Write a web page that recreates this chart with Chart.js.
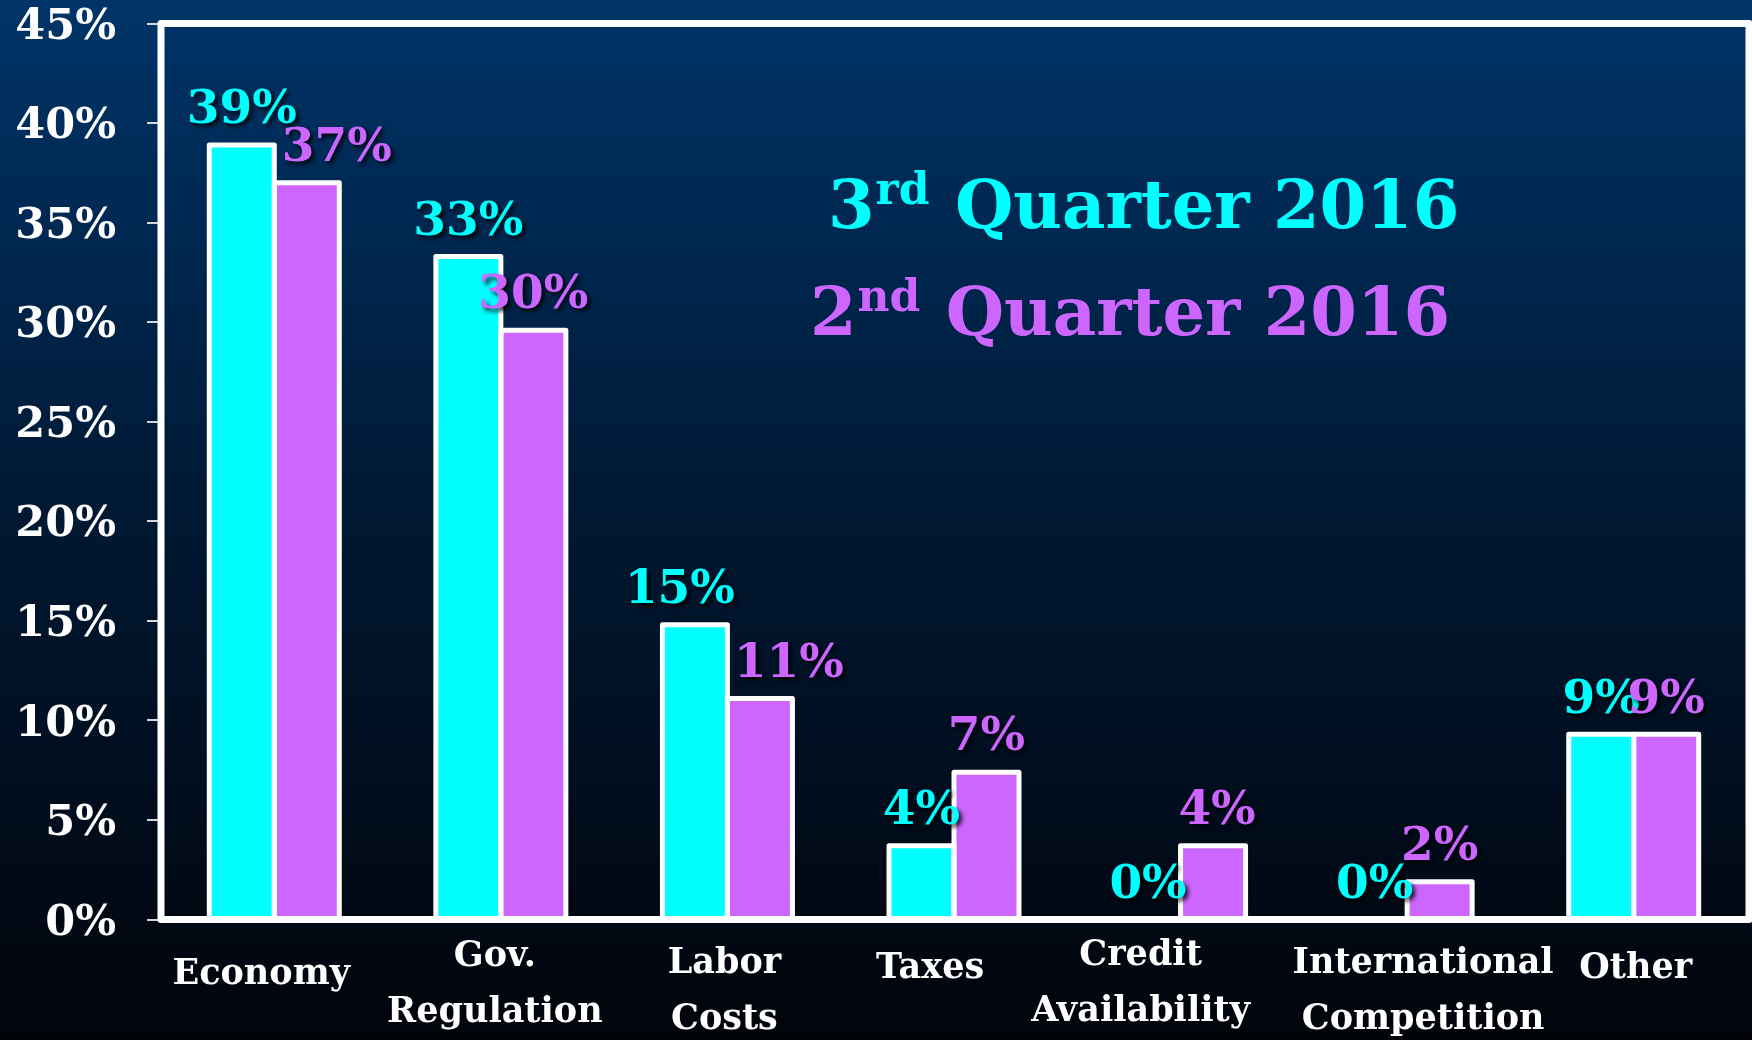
<!DOCTYPE html>
<html>
<head>
<meta charset="utf-8">
<script src="https://cdn.jsdelivr.net/npm/chart.js@4.4.1/dist/chart.umd.min.js"></script>
<style>
  html, body { margin: 0; padding: 0; background: #000; }
  #wrap { width: 1752px; height: 1040px; position: relative; }
  canvas { display: block; }
</style>
</head>
<body>
<div id="wrap"><canvas id="chart" width="1752" height="1040"></canvas></div>
<script>
// ---- data ----
const categories = [
  ['Economy'],
  ['Gov.', 'Regulation'],
  ['Labor', 'Costs'],
  ['Taxes'],
  ['Credit', 'Availability'],
  ['International', 'Competition'],
  ['Other']
];
const q3Values = [38.9, 33.3, 14.8, 3.7, 0, 0, 9.3];
const q2Values = [37.0, 29.6, 11.1, 7.4, 3.7, 1.9, 9.3];
const seriesLabels = ['3rd Quarter 2016', '2nd Quarter 2016'];
const yTickValues = [0, 5, 10, 15, 20, 25, 30, 35, 40, 45];

// ---- styles ----
const CYAN = '#00FFFF';
const PURPLE = '#CC66FF';
const SERIF = '"DejaVu Serif", "Liberation Serif", serif';

const backgroundPlugin = {
  id: 'bg',
  beforeDraw(chart) {
    const { ctx, width, height } = chart;
    const g = ctx.createLinearGradient(0, 0, 0, height);
    g.addColorStop(0, 'rgb(0,52,104)');
    g.addColorStop(0.25, 'rgb(0,38,78)');
    g.addColorStop(0.5, 'rgb(0,24,50)');
    g.addColorStop(0.75, 'rgb(1,14,31)');
    g.addColorStop(1, 'rgb(2,4,10)');
    ctx.save();
    ctx.fillStyle = g;
    ctx.fillRect(0, 0, width, height);
    ctx.restore();
  }
};

const overlayPlugin = {
  id: 'overlay',
  afterDatasetsDraw(chart, args, opts) {
    const { ctx, chartArea } = chart;
    ctx.save();
    // bar outlines (stroke centered on bar edges)
    ctx.strokeStyle = '#FFFFFF';
    ctx.lineWidth = 5;
    ctx.lineJoin = 'round';
    chart.data.datasets.forEach((ds, di) => {
      const meta = chart.getDatasetMeta(di);
      meta.data.forEach((bar, i) => {
        if (!ds.data[i]) return;
        const p = bar.getProps(['x', 'y', 'base', 'width'], true);
        ctx.strokeRect(p.x - p.width / 2, p.y, p.width, p.base - p.y);
      });
    });
    // frame
    ctx.lineWidth = 7;
    ctx.lineCap = 'square';
    ctx.beginPath();
    ctx.moveTo(chartArea.left, chartArea.bottom);
    ctx.lineTo(chartArea.left, chartArea.top);
    ctx.lineTo(chartArea.right + 2, chartArea.top);
    ctx.lineTo(chartArea.right + 2, chartArea.bottom);
    ctx.closePath();
    ctx.stroke();

    // category labels (positioned from the x scale)
    const xs = chart.scales.x;
    ctx.fillStyle = '#FFFFFF';
    ctx.font = 'bold 35px ' + SERIF;
    ctx.textAlign = 'center';
    ctx.textBaseline = 'middle';
    chart.data.labels.forEach((lab, i) => {
      const cx = xs.getPixelForValue(i) + opts.catDx[i];
      const y0 = chart.chartArea.bottom + opts.catDy[i];
      const lines = Array.isArray(lab) ? lab : [lab];
      lines.forEach((ln, j) => ctx.fillText(ln, cx, y0 + j * 56));
    });

    // value labels
    ctx.font = 'bold 47px ' + SERIF;
    ctx.textAlign = 'center';
    ctx.textBaseline = 'middle';
    ctx.shadowColor = 'rgba(0,0,0,0.85)';
    ctx.shadowOffsetX = 3;
    ctx.shadowOffsetY = 3;
    ctx.shadowBlur = 4;
    chart.data.datasets.forEach((ds, di) => {
      const meta = chart.getDatasetMeta(di);
      meta.data.forEach((bar, i) => {
        const p = bar.getProps(['x', 'y'], true);
        const nudge = (opts.nudge[di] && opts.nudge[di][i]) || 0;
        ctx.fillStyle = ds.backgroundColor;
        ctx.fillText(Math.round(ds.data[i]) + '%', p.x + nudge, p.y - 34);
      });
    });
    ctx.restore();

    // series titles with superscripts
    ctx.save();
    ctx.textAlign = 'left';
    ctx.textBaseline = 'alphabetic';
    opts.titles.forEach((t, k) => {
      const ds = chart.data.datasets[k];
      const m = ds.label.match(/^(\d+)(st|nd|rd|th)(.*)$/);
      let x = t.x;
      ctx.fillStyle = ds.backgroundColor;
      ctx.font = 'bold 67px ' + SERIF;
      ctx.fillText(m[1], x, t.y);
      x += ctx.measureText(m[1]).width + 1;
      ctx.font = 'bold 44px ' + SERIF;
      ctx.fillText(m[2], x, t.y - 24);
      x += ctx.measureText(m[2]).width;
      ctx.font = 'bold 67px ' + SERIF;
      ctx.fillText(m[3], x + 2, t.y);
    });
    ctx.restore();
  }
};

new Chart(document.getElementById('chart'), {
  type: 'bar',
  data: {
    labels: categories,
    datasets: [
      { label: seriesLabels[0], data: q3Values, backgroundColor: CYAN, borderWidth: 0 },
      { label: seriesLabels[1], data: q2Values, backgroundColor: PURPLE, borderWidth: 0 }
    ]
  },
  options: {
    responsive: false,
    animation: false,
    devicePixelRatio: 1,
    categoryPercentage: 0.5737,
    barPercentage: 1,
    layout: { padding: { top: 23.5, right: 5, left: 0, bottom: 0 } },
    plugins: {
      legend: { display: false },
      tooltip: { enabled: false },
      overlay: {
        nudge: { 0: { 2: -15 }, 1: { 0: 30, 2: 29, 4: 4 } },
        catDx: [-13, -6, -3, -24, -40, 16, 2],
        catDy: [55, 37, 44, 49, 36, 44, 49],
        titles: [ { x: 828, y: 228 }, { x: 810, y: 335 } ]
      }
    },
    scales: {
      x: {
        grid: { display: false, drawTicks: false },
        border: { display: false },
        ticks: { display: false },
        afterFit(s) { s.height = 120.5; s.paddingLeft = 0; s.paddingRight = 0; }
      },
      y: {
        min: 0,
        max: 45,
        afterBuildTicks(s) { s.ticks = yTickValues.map(v => ({ value: v })); },
        grid: {
          drawOnChartArea: false,
          drawTicks: true,
          tickLength: 14,
          color: 'rgba(235,235,235,0.9)',
          lineWidth: 2
        },
        border: { display: false },
        ticks: {
          color: '#FFFFFF',
          padding: 31,
          labelOffset: 4,
          font: { family: SERIF, size: 43, weight: 'bold' },
          callback: v => v + '%'
        },
        afterFit(s) { s.width = 161; s.paddingTop = 0; s.paddingBottom = 0; }
      }
    }
  },
  plugins: [backgroundPlugin, overlayPlugin]
});
</script>
</body>
</html>
